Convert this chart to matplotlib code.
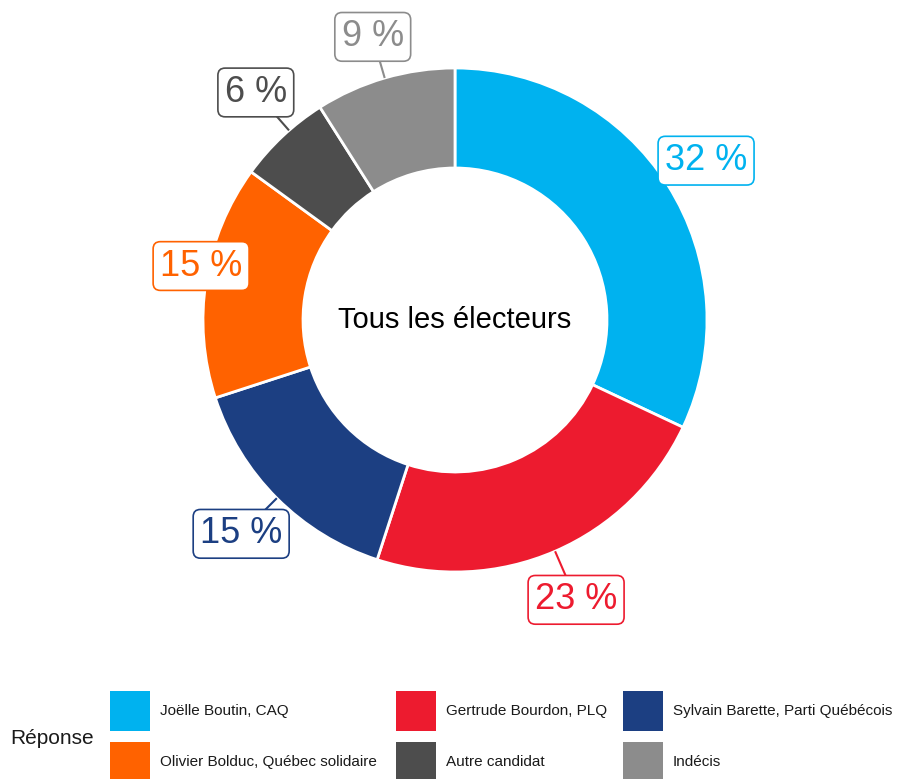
import numpy as np
import matplotlib
matplotlib.use("Agg")
import matplotlib.pyplot as plt
from matplotlib.patches import Rectangle

plt.rcParams['font.family'] = ['Liberation Sans', 'DejaVu Sans']

# ---- data ----
categories = ["Joëlle Boutin, CAQ", "Gertrude Bourdon, PLQ", "Sylvain Barette, Parti Québécois",
              "Olivier Bolduc, Québec solidaire", "Autre candidat", "Indécis"]
values = [32, 23, 15, 15, 6, 9]
colors = ["#00B2EF", "#ED1B2F", "#1C3F82", "#FF6200", "#4D4D4D", "#8C8C8C"]
center_title = "Tous les électeurs"
legend_title = "Réponse"

# ---- layout (pixels) ----
W, H = 903, 779
cx, cy = 455, H - 320
R, ring = 252, 100
label_rf = [1.18, 1.21, 1.20, 1.03, 1.20, 1.17]
label_dang = [0, 0, 0, 3, 2, 0]

fig = plt.figure(figsize=(W / 100, H / 100), dpi=100)
ax = fig.add_axes([0, 0, 1, 1])
ax.pie(values, colors=colors, startangle=90, counterclock=False,
       center=(cx, cy), radius=R,
       wedgeprops=dict(width=ring, edgecolor="white", linewidth=2))
ax.set_xlim(0, W)
ax.set_ylim(0, H)
ax.set_aspect('equal')
ax.axis('off')

ax.text(cx, cy, center_title, ha='center', va='center', fontsize=21, color='black')

total = sum(values)
cum = 0
for v, c, rf, da in zip(values, colors, label_rf, label_dang):
    mid = (cum + v / 2) / total * 360 + da
    cum += v
    t = np.deg2rad(mid)
    lx, ly = cx + rf * R * np.sin(t), cy + rf * R * np.cos(t)
    ex, ey = cx + R * np.sin(t), cy + R * np.cos(t)
    if rf > 1.05:
        ax.plot([ex, lx], [ey, ly], color=c, lw=1.5, zorder=3, solid_capstyle='butt')
    ax.text(lx, ly, f"{v} %", ha='center', va='center', fontsize=26, color=c, zorder=5,
            bbox=dict(boxstyle='round,pad=0.19,rounding_size=0.2', fc='white', ec=c, lw=1.2))

# ---- legend ----
col_x = [110, 396, 623]
row_top = [691, 742]
key = 40
for i in range(len(categories)):
    r, cix = divmod(i, 3)
    x0 = col_x[cix]
    y0 = H - row_top[r] - key
    ax.add_patch(Rectangle((x0, y0), key, key, facecolor=colors[i], edgecolor='none', clip_on=False))
    ax.text(x0 + key + 10, y0 + key / 2, categories[i], ha='left', va='center',
            fontsize=11, color='#1A1A1A')
ax.text(10, H - 739, legend_title, ha='left', va='center', fontsize=15, color='#1A1A1A')

fig.savefig("out.png", dpi=100)
